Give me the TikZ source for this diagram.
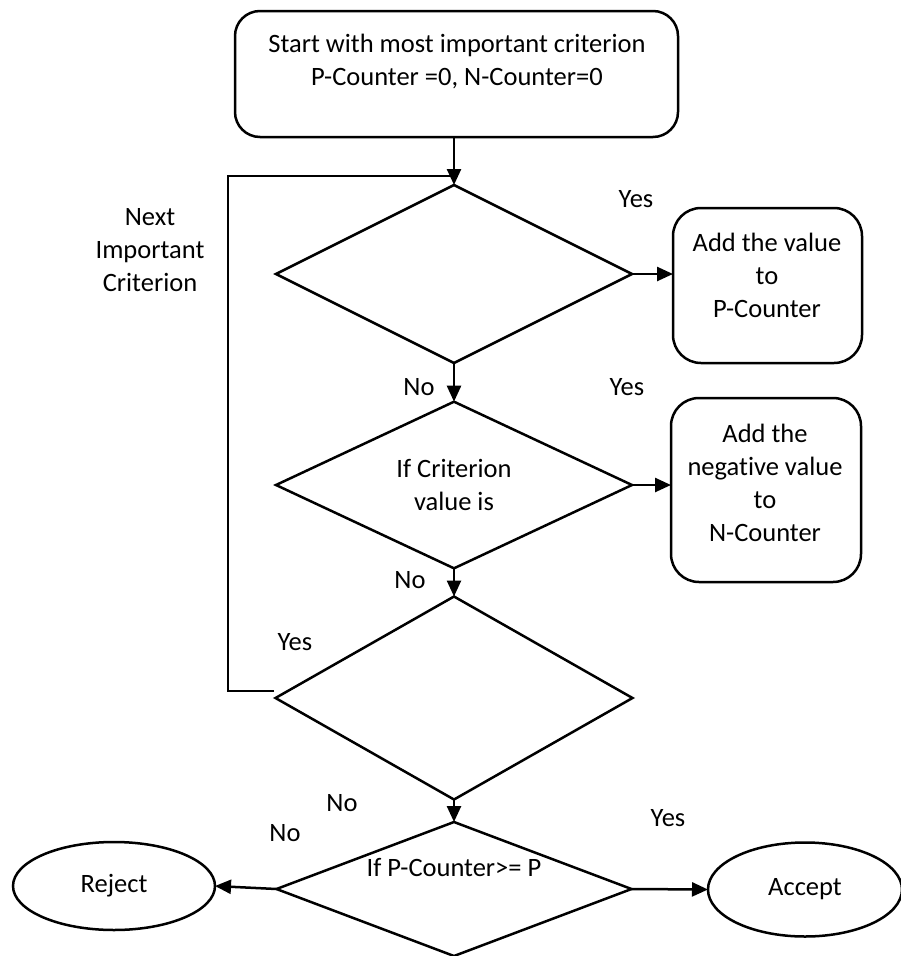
\documentclass[tikz,border=0pt]{standalone}
\usepackage{fontspec}
\setmainfont[Ligatures=NoCommon]{Carlito}
\usetikzlibrary{shapes.geometric,arrows.meta}
\begin{document}
\begin{tikzpicture}[x=1pt,y=-1pt,
  every node/.style={font=\fontsize{26.5}{33}\selectfont},
  ln/.style={line width=2.5pt},
  arr/.style={ln,-{Triangle[length=16pt,width=14pt]}},
  dia/.style={draw,ln,diamond,inner sep=0pt,outer sep=0pt},
  rbox/.style={draw,ln,rectangle,rounded corners=28pt,inner sep=0pt,outer sep=0pt},
  ell/.style={draw,ln,ellipse,inner sep=0pt,outer sep=0pt},
  txt/.style={inner sep=0pt,align=center}]
\useasboundingbox (0,0) rectangle (901,956);

% start box
\node[rbox,rounded corners=25pt,minimum width=443pt,minimum height=126pt] (start) at (456.5,74) {};
\node[txt] (starttxt) at (457,61) {Start with most important criterion\\P-Counter =0, N-Counter=0};

% diamonds
\node[dia,minimum width=356pt,minimum height=178pt] (d1) at (454,274) {};
\node[dia,minimum width=356pt,minimum height=145pt,txt,draw] (d2) at (454,485) {If Criterion\\value is};
\node[dia,minimum width=357pt,minimum height=203pt] (d3) at (454,698) {};
\node[dia,minimum width=355pt,minimum height=134pt] (d4) at (454,889) {};
\node[txt] (d4txt) at (454,868) {If P-Counter>= P};

% side boxes
\node[rbox,minimum width=189pt,minimum height=155pt] (pbox) at (767.5,285.5) {};
\node[txt] (ptxt) at (767,275.5) {Add the value\\to\\P-Counter};
\node[rbox,minimum width=190pt,minimum height=184pt] (nbox) at (766,490) {};
\node[txt] (ntxt) at (765,482.5) {Add the\\negative value\\to\\N-Counter};

% terminals
\node[ell,minimum width=202pt,minimum height=88pt] (reject) at (114,886) {Reject};
\node[ell,minimum width=194pt,minimum height=94pt] (accept) at (805,889.5) {Accept};

% connectors
\draw[arr] (start.south -| d1.north) -- (d1.north);
\coordinate (loopcorner) at (228,176);
\coordinate (loopstart) at (274,691);
\draw[ln] (loopstart) -| (loopcorner) -- (loopcorner -| d1.north);
\draw[arr] (d1.east) -- (d1.east -| pbox.west);
\draw[arr] (d1.south) -- (d2.north);
\draw[arr] (d2.east) -- (d2.east -| nbox.west);
\draw[arr] (d2.south) -- (d3.north);
\draw[arr] (d3.south) -- (d4.north);
\draw[arr] (d4.west) -- (reject.east);
\draw[arr] (d4.east) -- (accept.west);

% labels
\node[txt] (l1) at (636,199) {Yes};
\node[txt] (l2) at (419,387) {No};
\node[txt] (l3) at (627,387) {Yes};
\node[txt] (l4) at (410,580) {No};
\node[txt] (l5) at (295,642) {Yes};
\node[txt] (l6) at (150,250) {Next\\Important\\Criterion};
\node[txt] (l7) at (342,803) {No};
\node[txt] (l8) at (285,833) {No};
\node[txt] (l9) at (668,818) {Yes};
\end{tikzpicture}
\end{document}
